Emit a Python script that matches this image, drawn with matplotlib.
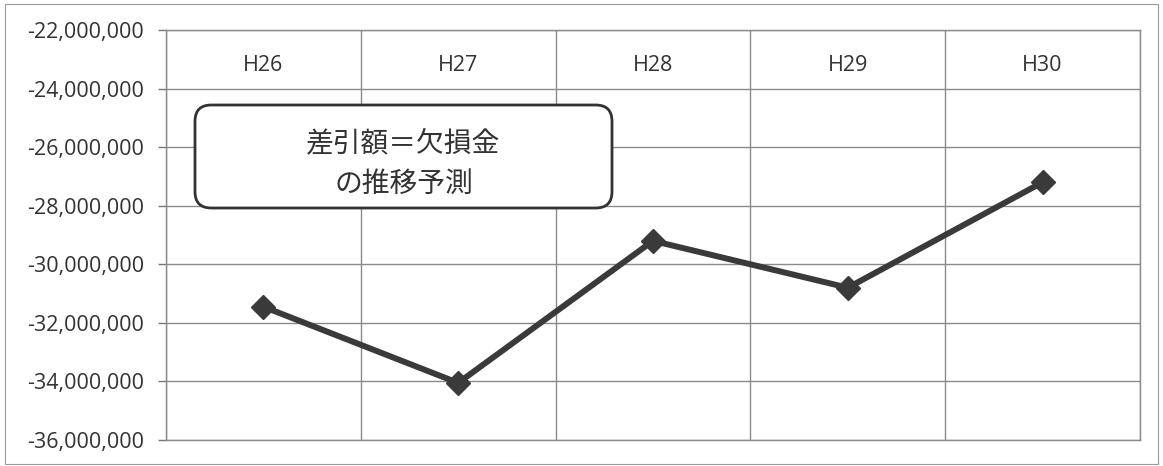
import matplotlib
matplotlib.use("Agg")
import matplotlib.pyplot as plt
from matplotlib.patches import FancyBboxPatch, Rectangle
from matplotlib.ticker import FuncFormatter, FixedLocator

plt.rcParams['font.family'] = ['Open Sans', 'Noto Sans CJK JP', 'DejaVu Sans']

# Fiscal years (Heisei era) and projected deficit
years = ["H26", "H27", "H28", "H29", "H30"]
deficit = [-31_450_000, -34_050_000, -29_200_000, -30_800_000, -27_200_000]
y_ticks = [-36_000_000, -34_000_000, -32_000_000, -30_000_000,
           -28_000_000, -26_000_000, -24_000_000, -22_000_000]
title_lines = "差引額＝欠損金\nの推移予測"

W, H = 1163, 466
fig = plt.figure(figsize=(W / 100, H / 100), dpi=100)
fig.patch.set_facecolor("white")

# thin frame around the chart area
fig.add_artist(Rectangle((5 / W, 2 / H), 1 - 10 / W, 1 - 6 / H,
                         transform=fig.transFigure, fill=False,
                         edgecolor="#9a9a9a", linewidth=0.8))

ax = fig.add_axes([166 / W, 1 - 440 / H, (1140 - 166) / W, (440 - 30) / H])

x = list(range(1, len(years) + 1))
ax.set_xlim(0.5, len(years) + 0.5)
ax.set_ylim(y_ticks[0], y_ticks[-1])

ax.yaxis.set_major_locator(FixedLocator(y_ticks))
ax.yaxis.set_major_formatter(FuncFormatter(lambda v, _: f"{int(v):,}"))
ax.tick_params(axis="y", length=6, width=1, color="#777777",
               labelsize=15.5, labelcolor="#333333", pad=10)

# category boundaries as vertical grid lines
ax.xaxis.set_major_locator(FixedLocator([i + 0.5 for i in range(0, len(years) + 1)]))
ax.tick_params(axis="x", length=0, labelbottom=False)
ax.grid(True, which="major", axis="both", color="#8a8a8a", linewidth=1.0)
ax.set_axisbelow(True)
for s in ax.spines.values():
    s.set_color("#8a8a8a")
    s.set_linewidth(1.0)

# category labels sit just under the top axis line
for xi, lab in zip(x, years):
    ax.annotate(lab, xy=(xi, y_ticks[-1]), xytext=(0, -33),
                textcoords="offset points", ha="center", va="bottom",
                fontsize=15.5, color="#333333")

ax.plot(x, deficit, color="#3a3a3a", linewidth=4.3, marker="D",
        markersize=12, markerfacecolor="#3a3a3a", markeredgecolor="#3a3a3a",
        solid_joinstyle="miter", zorder=5)

# rounded caption box
bx0, by0, bx1, by1 = 195, 105, 612, 208
box = FancyBboxPatch((bx0 / W, 1 - by1 / H), (bx1 - bx0) / W, (by1 - by0) / H,
                     boxstyle="round,pad=0,rounding_size=0.014",
                     transform=fig.transFigure, facecolor="white",
                     edgecolor="#333333", linewidth=2.0, zorder=10,
                     mutation_aspect=W / H)
fig.add_artist(box)
fig.text((bx0 + bx1) / 2 / W, 1 - ((by0 + by1) / 2 + 7) / H, title_lines,
         ha="center", va="center", fontsize=20, color="#333333",
         linespacing=1.45, family=['Noto Sans CJK JP', 'DejaVu Sans'], zorder=11)

fig.savefig("out.png", dpi=100, facecolor="white")
